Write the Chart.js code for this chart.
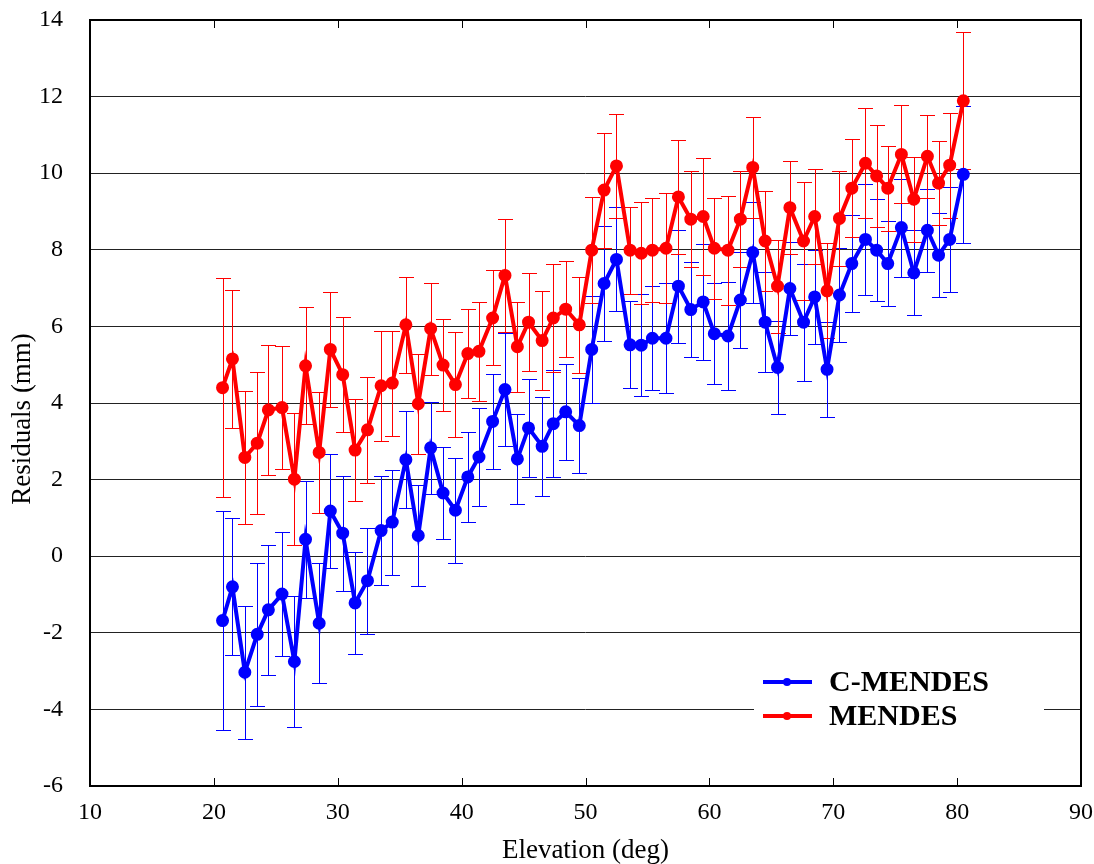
<!DOCTYPE html>
<html>
<head>
<meta charset="utf-8">
<script src="https://cdn.jsdelivr.net/npm/chart.js@4.4.1/dist/chart.umd.min.js"></script>
<style>
  html, body { margin: 0; padding: 0; background: #fff; }
  #wrap { width: 1094px; height: 864px; position: relative; }
</style>
</head>
<body>
<div id="wrap"><canvas id="chart"></canvas></div>
<script>
// Residuals vs elevation, two solutions with error bars

const SERIF = "'Liberation Serif', 'Times New Roman', serif";

// Elevation bins (deg)
const elevation = [
  20.7, 21.5, 22.5, 23.5, 24.4, 25.5, 26.5, 27.4, 28.5, 29.4,
  30.4, 31.4, 32.4, 33.5, 34.4, 35.5, 36.5, 37.5, 38.5, 39.5,
  40.5, 41.4, 42.5, 43.5, 44.5, 45.4, 46.5, 47.4, 48.4, 49.5,
  50.5, 51.5, 52.5, 53.6, 54.5, 55.4, 56.5, 57.5, 58.5, 59.5,
  60.4, 61.5, 62.5, 63.5, 64.5, 65.5, 66.5, 67.6, 68.5, 69.5,
  70.5, 71.5, 72.6, 73.5, 74.4, 75.5, 76.5, 77.6, 78.5, 79.4,
  80.5
];

// MENDES residuals (mm)
const mendes = [
  4.40, 5.15, 2.58, 2.95, 3.82, 3.88, 2.01, 4.97, 2.71, 5.40,
  4.74, 2.77, 3.30, 4.45, 4.52, 6.04, 3.98, 5.94, 4.99, 4.48,
  5.29, 5.35, 6.22, 7.33, 5.47, 6.11, 5.63, 6.22, 6.45, 6.04,
  7.99, 9.56, 10.19, 7.99, 7.91, 7.99, 8.04, 9.38, 8.80, 8.87,
  8.04, 7.99, 8.80, 10.15, 8.23, 7.05, 9.10, 8.23, 8.87, 6.93,
  8.82, 9.61, 10.26, 9.93, 9.61, 10.49, 9.32, 10.44, 9.74, 10.21,
  11.89
];

// C-MENDES residuals (mm)
const cMendes = [
  -1.68, -0.80, -3.03, -2.04, -1.40, -0.99, -2.75, 0.44, -1.75, 1.18,
  0.60, -1.22, -0.64, 0.67, 0.89, 2.52, 0.54, 2.83, 1.65, 1.20,
  2.07, 2.59, 3.52, 4.35, 2.54, 3.35, 2.87, 3.46, 3.77, 3.41,
  5.40, 7.12, 7.75, 5.52, 5.51, 5.69, 5.69, 7.05, 6.44, 6.64,
  5.81, 5.75, 6.69, 7.93, 6.11, 4.93, 6.99, 6.11, 6.77, 4.88,
  6.82, 7.64, 8.27, 7.99, 7.64, 8.58, 7.40, 8.51, 7.86, 8.27,
  9.97
];

// Error bar half-lengths (mm), same for both solutions
const errBar = [
  2.86, 1.79, 1.73, 1.86, 1.70, 1.61, 1.72, 1.53, 1.57, 1.50,
  1.50, 1.34, 1.38, 1.43, 1.37, 1.26, 1.31, 1.20, 1.20, 1.37,
  1.17, 1.29, 1.24, 1.47, 1.17, 1.28, 1.29, 1.40, 1.26, 1.25,
  1.39, 1.50, 1.36, 1.14, 1.33, 1.36, 1.44, 1.48, 1.25, 1.52,
  1.32, 1.42, 1.25, 1.33, 1.30, 1.21, 1.22, 1.53, 1.23, 1.24,
  1.24, 1.27, 1.44, 1.33, 1.11, 1.28, 1.11, 1.08, 1.10, 1.37,
  1.79
];

const seriesNames = ['C-MENDES', 'MENDES'];
const seriesColors = ['#0000ff', '#ff0000'];
const seriesValues = [cMendes, mendes];

// Draw error bars behind the lines
const errorBarPlugin = {
  id: 'errorBars',
  beforeDatasetsDraw(chart) {
    const ctx = chart.ctx;
    const xs = chart.scales.x;
    const ys = chart.scales.y;
    ctx.save();
    ctx.lineWidth = 1;
    chart.data.datasets.forEach((ds) => {
      ctx.strokeStyle = ds.borderColor;
      ds.data.forEach((p, i) => {
        const e = ds.errors[i];
        const x = Math.round(xs.getPixelForValue(p.x)) + 0.5;
        const yt = Math.round(ys.getPixelForValue(p.y + e)) + 0.5;
        const yb = Math.round(ys.getPixelForValue(p.y - e)) + 0.5;
        ctx.beginPath();
        ctx.moveTo(x, yt); ctx.lineTo(x, yb);
        ctx.moveTo(x - 7.5, yt); ctx.lineTo(x + 7.5, yt);
        ctx.moveTo(x - 7.5, yb); ctx.lineTo(x + 7.5, yb);
        ctx.stroke();
      });
    });
    ctx.restore();
  }
};

// Frame, inward ticks, y title and legend box
const framePlugin = {
  id: 'frame',
  afterDraw(chart) {
    const ctx = chart.ctx;
    const a = chart.chartArea;
    const xs = chart.scales.x;
    ctx.save();
    ctx.strokeStyle = '#000';
    ctx.lineWidth = 2;
    ctx.strokeRect(a.left, a.top, a.right - a.left, a.bottom - a.top);
    ctx.lineWidth = 1;
    xs.ticks.forEach(t => {
      const x = Math.round(xs.getPixelForValue(t.value)) + 0.5;
      ctx.beginPath();
      ctx.moveTo(x, a.bottom); ctx.lineTo(x, a.bottom - 8);
      ctx.moveTo(x, a.top); ctx.lineTo(x, a.top + 8);
      ctx.stroke();
    });

    // y axis title, sits a little below the middle in the original
    ctx.save();
    ctx.translate(23, (a.top + a.bottom) / 2 + 16);
    ctx.rotate(-Math.PI / 2);
    ctx.fillStyle = '#000';
    ctx.font = '27px ' + SERIF;
    ctx.textAlign = 'center';
    ctx.textBaseline = 'middle';
    ctx.fillText('Residuals (mm)', 0, 0);
    ctx.restore();

    // legend
    const bx = a.right - 327, by = a.bottom - 130;
    ctx.fillStyle = '#fff';
    ctx.fillRect(bx, by, 290, 90);
    seriesNames.forEach((name, i) => {
      const y = a.bottom - 104 + i * 34;
      ctx.strokeStyle = seriesColors[i];
      ctx.fillStyle = seriesColors[i];
      ctx.lineWidth = 4;
      ctx.beginPath();
      ctx.moveTo(bx + 9, y); ctx.lineTo(bx + 58, y);
      ctx.stroke();
      ctx.beginPath();
      ctx.arc(bx + 33, y, 4, 0, Math.PI * 2);
      ctx.fill();
      ctx.fillStyle = '#000';
      ctx.font = 'bold 30px ' + SERIF;
      ctx.textBaseline = 'middle';
      ctx.textAlign = 'left';
      ctx.fillText(name, bx + 75, y + 1);
    });
    ctx.restore();
  }
};

new Chart(document.getElementById('chart'), {
  type: 'scatter',
  data: {
    datasets: seriesNames.map((name, si) => ({
      label: name,
      data: elevation.map((e, i) => ({ x: e, y: seriesValues[si][i] })),
      errors: errBar,
      showLine: true,
      borderColor: seriesColors[si],
      backgroundColor: seriesColors[si],
      borderWidth: 4,
      pointRadius: 4.5,
      pointHoverRadius: 4.5,
      tension: 0,
      order: 1 - si
    }))
  },
  options: {
    animation: false,
    responsive: true,
    maintainAspectRatio: false,
    layout: { padding: { top: 20, right: 13, left: 0, bottom: 0 } },
    plugins: { legend: { display: false }, tooltip: { enabled: false } },
    scales: {
      x: {
        type: 'linear',
        min: 10, max: 90,
        afterFit(s) { s.height = 78; s.paddingLeft = 0; s.paddingRight = 0; },
        grid: { display: false, drawTicks: false },
        border: { display: false },
        ticks: { stepSize: 10, padding: 12, color: '#000', font: { family: SERIF, size: 24 } },
        title: { display: true, text: 'Elevation (deg)', color: '#000', padding: { top: 0, bottom: 0 },
                 font: { family: SERIF, size: 27, lineHeight: 1 } }
      },
      y: {
        min: -6, max: 14,
        afterFit(s) { s.width = 90; s.paddingTop = 0; s.paddingBottom = 0; },
        grid: { color: '#222', lineWidth: 1, drawTicks: false },
        border: { display: false },
        ticks: { stepSize: 2, padding: 27, color: '#000', font: { family: SERIF, size: 24 } }
      }
    }
  },
  plugins: [errorBarPlugin, framePlugin]
});
</script>
</body>
</html>
